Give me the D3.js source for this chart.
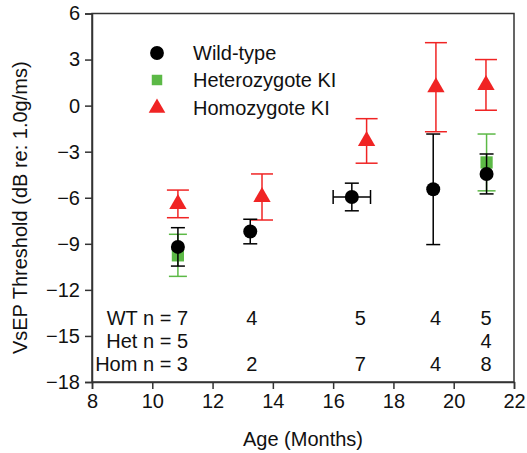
<!DOCTYPE html>
<html>
<head>
<meta charset="utf-8">
<script src="https://cdn.jsdelivr.net/npm/d3@7"></script>
<style>
  body { margin: 0; background: #fff; }
  text { font-family: "Liberation Sans", Arial, sans-serif; fill: #111; }
</style>
</head>
<body>
<div id="chart"></div>
<script>
// ── Data ───────────────────────────────────────────────────────────────────

var groups = ['Wild-type', 'Heterozygote KI', 'Homozygote KI'];

// Wild-type: age, threshold, y error, x error
var wtAge   = [10.85, 13.25, 16.62, 19.32, 21.09];
var wtMean  = [-9.2, -8.2, -5.95, -5.45, -4.45];
var wtErr   = [1.25, 0.8, 0.9, 3.6, 1.3];
var wtAgeErr = [0, 0, 0.62, 0, 0];

var hetAge  = [10.85, 21.09];
var hetMean = [-9.75, -3.7];
var hetErr  = [1.37, 1.85];

var homAge  = [10.85, 13.64, 17.11, 19.41, 21.07];
var homMean = [-6.4, -5.95, -2.3, 1.2, 1.35];
var homErr  = [0.9, 1.5, 1.45, 2.9, 1.65];

// sample sizes printed inside the plot
var nRowLabels = ['WT n = 7', 'Het n = 5', 'Hom n = 3'];
var wtN  = [{ x: 13.3, n: 4 }, { x: 16.9, n: 5 }, { x: 19.4, n: 4 }, { x: 21.07, n: 5 }];
var hetN = [{ x: 21.07, n: 4 }];
var homN = [{ x: 13.3, n: 2 }, { x: 16.9, n: 7 }, { x: 19.4, n: 4 }, { x: 21.07, n: 8 }];

var xTicks = [8, 10, 12, 14, 16, 18, 20, 22];
var yTicks = [6, 3, 0, -3, -6, -9, -12, -15, -18];

// ── Helpers ────────────────────────────────────────────────────────────────

function zip(ages, means, errs, ageErrs) {
  return ages.map(function(a, i) {
    return { x: a, y: means[i], e: errs[i], xe: ageErrs ? ageErrs[i] : 0 };
  });
}

var BLACK = '#000';
var GREEN = '#5cb946';
var RED   = '#f02424';
var FONT  = 20;

// ── Rendering ──────────────────────────────────────────────────────────────

var width = 527, height = 453;
var plotLeft = 92, plotRight = 514, plotTop = 13.5, plotBottom = 382;

var svg = d3.select('#chart').append('svg')
  .attr('width', width)
  .attr('height', height);

var x = d3.scaleLinear().domain([8, 22]).range([plotLeft, plotRight]);
var y = d3.scaleLinear().domain([-18, 6]).range([plotBottom, plotTop]);

// frame
svg.append('rect')
  .attr('x', plotLeft).attr('y', plotTop)
  .attr('width', plotRight - plotLeft).attr('height', plotBottom - plotTop)
  .attr('fill', 'none').attr('stroke', '#333').attr('stroke-width', 1.5);

var xAxis = svg.append('g')
  .attr('transform', 'translate(0,' + plotBottom + ')')
  .call(d3.axisBottom(x).tickValues(xTicks).tickSize(7).tickPadding(5).tickFormat(d3.format('d')));
var yAxis = svg.append('g')
  .attr('transform', 'translate(' + plotLeft + ',0)')
  .call(d3.axisLeft(y).tickValues(yTicks).tickSize(7).tickPadding(5).tickFormat(d3.format('d')));

[xAxis, yAxis].forEach(function(g) {
  g.select('.domain').attr('stroke', '#333').attr('stroke-width', 1.5);
  g.selectAll('.tick line').attr('stroke', '#333').attr('stroke-width', 1.5);
  g.selectAll('.tick text')
    .attr('font-size', FONT)
    .style('font-family', '"Liberation Sans", Arial, sans-serif')
    .attr('fill', '#111');
});

svg.append('text')
  .attr('x', (plotLeft + plotRight) / 2).attr('y', 446)
  .attr('text-anchor', 'middle').attr('font-size', FONT)
  .text('Age (Months)');

svg.append('text')
  .attr('transform', 'translate(27,' + ((plotTop + plotBottom) / 2 + 10) + ') rotate(-90)')
  .attr('text-anchor', 'middle').attr('font-size', FONT)
  .text('VsEP Threshold (dB re: 1.0g/ms)');

// error bars + markers
function drawErrors(data, color, cap) {
  var g = svg.append('g').attr('stroke', color).attr('stroke-width', 1.5);
  data.forEach(function(d) {
    g.append('line')
      .attr('x1', x(d.x)).attr('x2', x(d.x))
      .attr('y1', y(d.y - d.e)).attr('y2', y(d.y + d.e));
    [d.y - d.e, d.y + d.e].forEach(function(v) {
      g.append('line')
        .attr('x1', x(d.x) - cap / 2).attr('x2', x(d.x) + cap / 2)
        .attr('y1', y(v)).attr('y2', y(v));
    });
    if (d.xe) {
      g.append('line')
        .attr('x1', x(d.x - d.xe)).attr('x2', x(d.x + d.xe))
        .attr('y1', y(d.y)).attr('y2', y(d.y));
      [d.x - d.xe, d.x + d.xe].forEach(function(v) {
        g.append('line')
          .attr('x1', x(v)).attr('x2', x(v))
          .attr('y1', y(d.y) - cap / 2).attr('y2', y(d.y) + cap / 2);
      });
    }
  });
}

var het = zip(hetAge, hetMean, hetErr);
var hom = zip(homAge, homMean, homErr);
var wt  = zip(wtAge, wtMean, wtErr, wtAgeErr);

drawErrors(het, GREEN, 18);
svg.append('g').selectAll('path').data(het).join('path')
  .attr('d', d3.symbol(d3.symbolSquare, 150))
  .attr('transform', function(d) { return 'translate(' + x(d.x) + ',' + y(d.y) + ')'; })
  .attr('fill', GREEN);

drawErrors(hom, RED, 22);
svg.append('g').selectAll('path').data(hom).join('path')
  .attr('d', d3.symbol(d3.symbolTriangle, 130))
  .attr('transform', function(d) { return 'translate(' + x(d.x) + ',' + y(d.y) + ')'; })
  .attr('fill', RED);

drawErrors(wt, BLACK, 14);
svg.append('g').selectAll('circle').data(wt).join('circle')
  .attr('cx', function(d) { return x(d.x); })
  .attr('cy', function(d) { return y(d.y); })
  .attr('r', 7)
  .attr('fill', BLACK);

// legend
var legendY = [53, 80, 108];
var legendSym = [d3.symbolCircle, d3.symbolSquare, d3.symbolTriangle];
var legendSize = [150, 110, 120];
var legendColor = [BLACK, GREEN, RED];
var legend = svg.append('g').selectAll('g').data(groups).join('g')
  .attr('transform', function(d, i) { return 'translate(157,' + legendY[i] + ')'; });
legend.append('path')
  .attr('d', function(d, i) { return d3.symbol(legendSym[i], legendSize[i])(); })
  .attr('fill', function(d, i) { return legendColor[i]; });
legend.append('text')
  .attr('x', 36).attr('dy', '0.35em').attr('font-size', FONT)
  .text(function(d) { return d; });

// sample sizes
var rowY = [318, 341, 364];
var nRows = [wtN, hetN, homN];
svg.append('g').selectAll('text').data(nRowLabels).join('text')
  .attr('x', 188).attr('y', function(d, i) { return rowY[i]; })
  .attr('dy', '0.35em').attr('text-anchor', 'end').attr('font-size', FONT)
  .text(function(d) { return d; });
nRows.forEach(function(row, i) {
  svg.append('g').selectAll('text').data(row).join('text')
    .attr('x', function(d) { return x(d.x); })
    .attr('y', rowY[i])
    .attr('dy', '0.35em').attr('text-anchor', 'middle').attr('font-size', FONT)
    .text(function(d) { return d.n; });
});
</script>
</body>
</html>
